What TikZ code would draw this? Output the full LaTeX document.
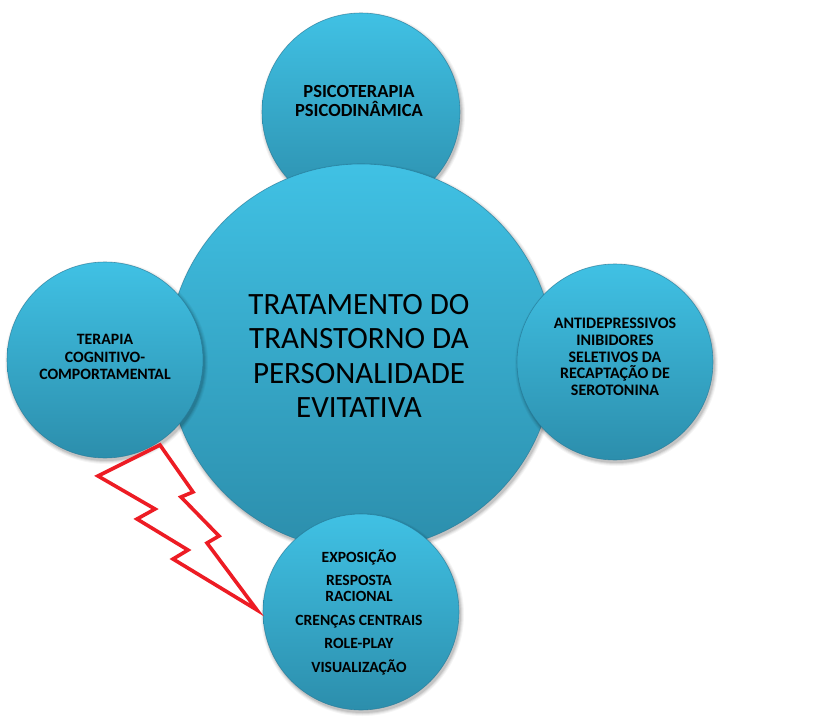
\documentclass[tikz,border=0pt]{standalone}
\usepackage{fontspec}
\setmainfont{Carlito}
\definecolor{cTop}{RGB}{64,193,228}
\definecolor{cBot}{RGB}{44,142,172}
\definecolor{cRim}{RGB}{38,120,150}
\definecolor{bolt}{RGB}{237,28,36}
\begin{document}
\begin{tikzpicture}[x=1pt,y=-1pt,
  disc/.style={circle, inner sep=0pt, minimum size=#1, top color=cTop, bottom color=cBot,
    draw=cRim, draw opacity=0.7, line width=0.6pt},
  txt/.style={align=center, text=black, inner sep=0pt},
]
\useasboundingbox (0,0) rectangle (819,720);
\fill[white] (0,0) rectangle (819,720);
\newcommand{\softshadow}[3]{%
  \foreach \k/\o in {3.5/0.04,2.5/0.05,1.5/0.07,0.5/0.09}
    \fill[black,opacity=\o] (#1+1.5,#2+2.5) circle[radius=#3pt+\k pt];}
% top circle
\softshadow{361}{112}{99}
\node[disc=198pt] (ctop) at (361,112) {};
% central circle
\softshadow{361}{357}{193}
\node[disc=386pt] (cmain) at (361,357) {};
% left circle
\softshadow{105}{360}{98}
\node[disc=196pt] (cleft) at (105,360) {};
% right circle
\softshadow{615}{362}{98}
\node[disc=196pt] (cright) at (615,362) {};
% bottom circle
\softshadow{361}{612}{98}
\node[disc=196pt] (cbot) at (361,612) {};
% texts
\node[txt, font=\bfseries\fontsize{18.5}{19.5}\selectfont] (ttop) at (359,101)
  {PSICOTERAPIA\\PSICODINÂMICA};
\node[txt, font=\fontsize{31}{34.5}\selectfont] (tmain) at (359,356)
  {TRATAMENTO DO\\TRANSTORNO DA\\PERSONALIDADE\\EVITATIVA};
\node[txt, font=\bfseries\fontsize{15.8}{17.5}\selectfont] (tleft) at (105,357)
  {TERAPIA\\COGNITIVO-\\COMPORTAMENTAL};
\node[txt, font=\bfseries\fontsize{16}{16.7}\selectfont] (tright) at (615,357)
  {ANTIDEPRESSIVOS\\INIBIDORES\\SELETIVOS DA\\RECAPTAÇÃO DE\\SEROTONINA};
\node[txt, font=\bfseries\fontsize{15.6}{16}\selectfont] (tbot) at (359,612)
  {EXPOSIÇÃO\\[7.5pt]RESPOSTA\\RACIONAL\\[7.5pt]CRENÇAS CENTRAIS\\[7.5pt]ROLE-PLAY\\[7.5pt]VISUALIZAÇÃO};
% lightning bolt
\draw[bolt, line width=3.6pt, line join=miter, miter limit=10]
  (160,445) -- (98,476) -- (155,509) -- (137,519) -- (188,550) -- (173,559)
  -- (257,610) -- (207,543) -- (219,536) -- (181,497) -- (193,492) -- cycle;
\end{tikzpicture}
\end{document}
